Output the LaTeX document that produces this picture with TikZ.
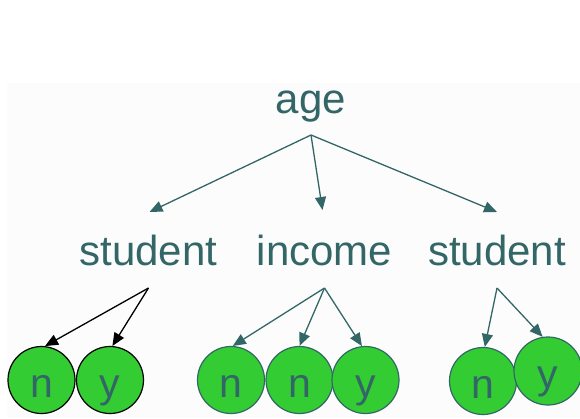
\documentclass[tikz,border=0pt]{standalone}
\usepackage{fontspec}
\setmainfont{Liberation Sans}
\usetikzlibrary{arrows.meta}
\definecolor{teal}{RGB}{51,102,102}
\definecolor{leafgreen}{RGB}{51,204,51}
\definecolor{panel}{RGB}{252,252,252}
\begin{document}
\begin{tikzpicture}[x=1pt,y=-1pt,
  attr/.style={text=teal,anchor=base,inner sep=0pt,font=\fontsize{42}{50}\selectfont},
  leaf/.style={circle,draw=teal,fill=leafgreen,line width=1.2pt,inner sep=0pt,
    minimum size=67pt,text=teal,text height=34pt,text depth=0pt,
    font=\fontsize{41}{48}\selectfont},
  blackleaf/.style={leaf,draw=black},
  edge/.style={draw=teal,line width=1.3pt,-{Triangle[length=13pt,width=11pt]}},
  blackedge/.style={edge,draw=black}]
\useasboundingbox (0,0) rectangle (580,418);
\fill[panel] (7,83) rectangle (580,418);

% attribute labels
\node[attr] (age)  at (311,113) {age};
\node[attr] (stuL) at (148.5,265) {student};
\node[attr] (inc)  at (324.5,265) {income};
\node[attr] (stuR) at (497,265) {student};

% fork points below each label
\coordinate (age-fork)  at ([yshift=-22pt]age.base);
\coordinate (stuL-fork) at ([yshift=-23pt]stuL.base);
\coordinate (inc-fork)  at ([yshift=-23pt]inc.base);
\coordinate (stuR-fork) at ([yshift=-23pt]stuR.base);

% leaves
\node[blackleaf] (l1) at (41.5,380) {n};
\node[blackleaf] (l2) at (110,380) {y};
\node[leaf] (m1) at (231,380) {n};
\node[leaf] (m2) at (299.5,380) {n};
\node[leaf] (m3) at (365.5,380) {y};
\node[leaf] (r1) at (483,381) {n};
\node[leaf,minimum size=68pt] (r2) at (548,371) {y};

% top level branches
\draw[edge] (age-fork) -- ([xshift=1pt,yshift=53pt]stuL.base);
\draw[edge] (age-fork) -- ([xshift=-2pt,yshift=55pt]inc.base);
\draw[edge] (age-fork) -- ([yshift=53pt]stuR.base);

% leaf branches
\draw[blackedge] (stuL-fork) -- (l1.84);
\draw[blackedge] (stuL-fork) -- (l2.86);
\draw[edge] (inc-fork) -- (m1.87);
\draw[edge] (inc-fork) -- (m2.north);
\draw[edge] (inc-fork) -- (m3.96);
\draw[edge] (stuR-fork) -- (r1.87);
\draw[edge] (stuR-fork) -- (r2.99);
\end{tikzpicture}
\end{document}
